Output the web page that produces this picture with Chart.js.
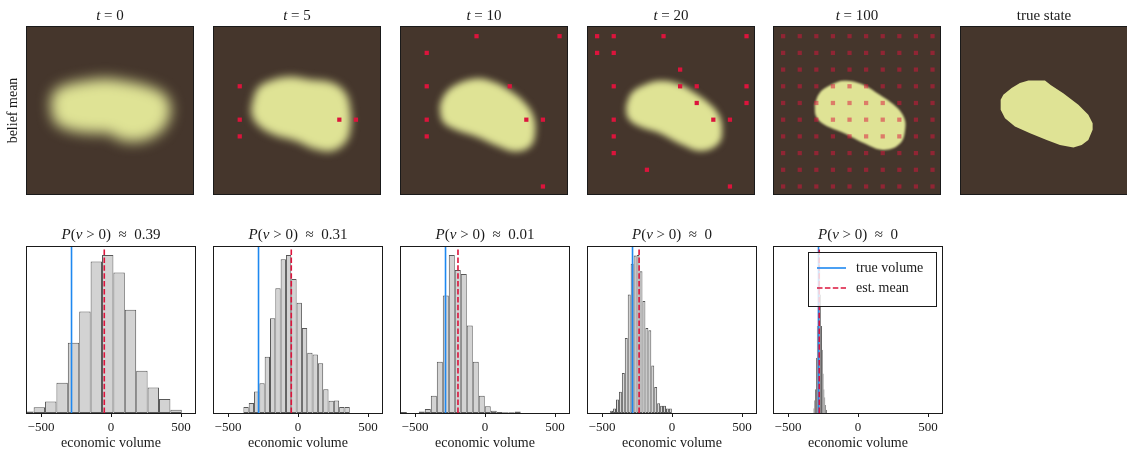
<!DOCTYPE html>
<html>
<head>
<meta charset="utf-8">
<script src="https://cdn.jsdelivr.net/npm/chart.js@4.4.1/dist/chart.umd.min.js"></script>
<style>
  body { margin:0; background:#fff; width:1127px; height:456px; position:relative; overflow:hidden; }
  canvas { position:absolute; }
</style>
</head>
<body>
<script>
// ---- data ------------------------------------------------------------------
// Top row: belief mean at each step, in image units (0..100, y from top).
const STEP_TITLES = ['t = 0', 't = 5', 't = 10', 't = 20', 't = 100', 'true state'];

const BLOB_T0   = [[14,44],[17,38],[24,34.5],[36,32],[48,31],[60,32.5],[73,35.5],[83,40.5],[86.5,48],[84.5,57.5],[78,64.5],[67,68.5],[56,67.5],[50,64],[38,63.5],[25,61.5],[16.5,56.5]];
const BLOB_T5   = [[23.5,43.3],[26.4,36.7],[33.4,32.4],[45.3,29.8],[57.3,31.4],[71.2,33.4],[79.1,39.4],[82.1,49.3],[82.1,61.3],[79.1,69.2],[71.2,74.2],[61.2,73.2],[49.3,68.2],[35.4,64.2],[26.4,58.6],[22.5,51.3]];
const BLOB_T10  = [[23.2,47.6],[26.2,40.6],[33.1,34.6],[45,31],[54.9,32.6],[64.9,37.6],[74.8,45.6],[79.8,53.6],[80.8,63.6],[77.8,71.6],[68.8,74.6],[58.9,71.6],[45,65.6],[33.1,61.6],[25.2,56.6]];
const BLOB_T20  = [[22.8,47.6],[26.2,39.6],[34.1,34.6],[43.1,32.2],[53,33.6],[62.9,38.6],[72.8,45.6],[78.8,52.6],[80.8,61.6],[78.8,69.6],[68.8,74.2],[56.9,70.6],[43.1,63.6],[31.2,59.6],[24.2,54.6]];
const BLOB_T100 = [[24.5,46.6],[27.4,39.6],[34.4,34.6],[42.3,32.2],[52.3,34],[62.2,39.6],[72.2,46.6],[78.1,53.6],[79.1,60.6],[76.1,69.6],[66.2,73.6],[54.3,69.6],[42.3,63.6],[30.4,58.6],[25.4,53.6]];
const BLOB_TRUE = [[23.9,43.6],[25.5,40.6],[30.5,36.6],[35.5,33.6],[40.6,32],[50.6,32],[54,34.8],[61.6,39.6],[70.7,46.6],[76.7,52.6],[79.3,57.6],[79.3,61.6],[76.7,67.6],[72.7,70.6],[67.7,72.2],[59.6,70.6],[51.6,67.6],[41.6,63.6],[32.5,59.6],[26.5,54.6],[23.9,49.6]];

// sampled locations (red markers)
const MARKS_T5  = [[15.5,35.5],[15.5,55.5],[15.5,65.5],[75.5,55.5],[85.5,55.5]];
const MARKS_T10 = [[45.5,5.5],[95.5,5.5],[15.5,15.5],[15.5,35.5],[65.5,35.5],[15.5,55.5],[75.5,55.5],[85.5,55.5],[15.5,65.5],[85.5,95.5]];
const MARKS_T20 = [[5.5,5.5],[15.5,5.5],[45.5,5.5],[95.5,5.5],[5.5,15.5],[15.5,15.5],[55.5,25.5],[15.5,35.5],[55.5,35.5],[65.5,35.5],[95.5,35.5],
                   [65.5,45.5],[95.5,45.5],[15.5,55.5],[75.5,55.5],[85.5,55.5],[15.5,65.5],[15.5,75.5],[35.5,85.5],[85.5,95.5]];
const GRID_T100 = [5.5,15.5,25.5,35.5,45.5,55.5,65.5,75.5,85.5,95.5];   // every cell sampled by t=100

// Bottom row: posterior histograms of economic volume (counts scaled to tallest bar = 100)
const XTICKS = [-500, 0, 500];
const P_POSITIVE = ['0.39', '0.31', '0.01', '0', '0'];
const TRUE_VOLUME = -282;
const EST_MEAN = [-48, -48, -193, -235, -277];
const BIN_START = [-634, -390, -601, -442, -318];
const BIN_WIDTH = [81.4, 38, 42.8, 21, 6];
const COUNTS_T0   = [1.0, 3.6, 7.3, 19.2, 44.4, 64.2, 95.8, 100, 88.9, 65.3, 26.8, 16.1, 8.8, 2.1];
const COUNTS_T5   = [3.8, 6.3, 13.6, 18.8, 35.6, 60.0, 78.9, 97.3, 100, 84.7, 69.7, 53.8, 38.1, 37.0, 31.4, 15.1, 7.7, 7.9, 3.8, 3.8];
const COUNTS_T10  = [0.6, 0, 0, 1.0, 2.5, 10.9, 32.4, 74.3, 100, 90.4, 87.9, 55.4, 32.4, 10.9, 4.2, 1.5, 0.6, 0.4, 0.4, 1.0];
const COUNTS_T20  = [1.5, 2.9, 8.6, 13.4, 25.3, 47.4, 75, 94.4, 99.6, 100, 89.6, 70.8, 53.7, 52.4, 30.1, 16.5, 6.1, 4.6, 4.6, 2.9, 2.9];
const COUNTS_T100 = [3, 8, 15, 35, 55, 80, 100, 95, 75, 55, 40, 25, 15, 10, 5, 2];

const BLOBS  = [BLOB_T0, BLOB_T5, BLOB_T10, BLOB_T20, BLOB_T100, BLOB_TRUE];
const MARKS  = [[], MARKS_T5, MARKS_T10, MARKS_T20, GRID_T100.flatMap(y => GRID_T100.map(x => [x, y])), []];
const COUNTS = [COUNTS_T0, COUNTS_T5, COUNTS_T10, COUNTS_T20, COUNTS_T100];

// ---- look ------------------------------------------------------------------
const SERIF = '"Liberation Serif", "DejaVu Serif", serif';
const INK = '#1a1a1a';
const BG_COLOR = '#45362c', BLOB_COLOR = '#dfe395';
const BLUR = [7, 4.5, 3.5, 3, 1.2, 0];          // px, how smeared the belief mean looks
const MARK_COLOR = ['#dc143c', '#dc143c', '#dc143c', '#dc143c', 'rgba(220,20,60,0.5)', '#dc143c'];
const TOP_LEFT = [27, 214, 401, 588, 774, 961], TOP_W = 166;
const HIST_LEFT = [27, 214, 401, 588, 774], HIST_W = 168;
const PAD = 14, YMAX = 105;

// ---- helpers ---------------------------------------------------------------
function addCanvas(left, top, w, h){
  const c = document.createElement('canvas');
  c.width = w; c.height = h;
  c.style.cssText = `left:${left}px;top:${top}px;width:${w}px;height:${h}px`;
  document.body.appendChild(c);
  return c;
}
const toXY = pts => pts.map(([x, y]) => ({x, y}));

// title with italic math letters, like the LaTeX labels
function drawTitle(ctx, text, math, cx, cy){
  const parts = [...text].map(ch => ({ch,
    font: `${math && /[A-Za-z]/.test(ch) ? 'italic ' : ''}15px ${SERIF}`}));
  let w = 0;
  parts.forEach(p => { ctx.font = p.font; p.w = ctx.measureText(p.ch).width; w += p.w; });
  let x = cx - w / 2;
  ctx.fillStyle = INK; ctx.textBaseline = 'middle'; ctx.textAlign = 'left';
  parts.forEach(p => { ctx.font = p.font; ctx.fillText(p.ch, x, cy); x += p.w; });
}

function drawLegend(chart){
  const {ctx, chartArea: a} = chart;
  const items = chart.data.datasets.filter(d => d.type === 'line').sort((p, q) => q.order - p.order);
  ctx.save();
  ctx.font = `14px ${SERIF}`;
  const tw = Math.max(...items.map(d => ctx.measureText(d.label).width));
  const w = Math.round(9 + 29 + 10 + tw + 13), h = 54;
  const x = Math.round(a.right - 6 - w), y = Math.round(a.top + 5);
  ctx.fillStyle = 'rgba(255,255,255,0.8)'; ctx.fillRect(x, y, w, h);
  ctx.strokeStyle = INK; ctx.lineWidth = 1; ctx.strokeRect(x + 0.5, y + 0.5, w, h);
  items.forEach((d, k) => {
    const cy = y + 16 + k * 20;
    ctx.strokeStyle = d.borderColor; ctx.lineWidth = d.borderWidth; ctx.setLineDash(d.borderDash || []);
    ctx.beginPath(); ctx.moveTo(x + 9, cy); ctx.lineTo(x + 38, cy); ctx.stroke();
    ctx.setLineDash([]);
    ctx.fillStyle = INK; ctx.textBaseline = 'middle'; ctx.textAlign = 'left';
    ctx.fillText(d.label, x + 48, cy);
  });
  ctx.restore();
}

// background, blur for the belief blob, frame, titles, legend
const panelPlugin = {
  id: 'panel',
  beforeDatasetsDraw(chart, args, opts){
    const {ctx, chartArea: a} = chart;
    if(opts.bg){ ctx.fillStyle = opts.bg; ctx.fillRect(a.left, a.top, a.width, a.height); }
    ctx.filter = opts.blur ? `blur(${opts.blur}px)` : 'none';   // picked up by the filler of the first dataset
  },
  afterDatasetDraw(chart){ chart.ctx.filter = 'none'; },
  afterDatasetsDraw(chart, args, opts){
    const {ctx, chartArea: a} = chart;
    ctx.save();
    ctx.strokeStyle = INK; ctx.lineWidth = 1;
    ctx.strokeRect(Math.round(a.left) - 0.5, Math.round(a.top) - 0.5, Math.round(a.width) + 1, Math.round(a.height) + 1);
    ctx.restore();
    if(opts.legend) drawLegend(chart);
  },
  afterDraw(chart, args, opts){
    const a = chart.chartArea;
    if(opts.title) drawTitle(chart.ctx, opts.title, opts.math, (a.left + a.right) / 2, a.top - opts.titleGap);
  },
};

Chart.defaults.font.family = SERIF;
Chart.defaults.color = INK;

// ---- top row: belief maps --------------------------------------------------
function imageChart(i){
  const first = i === 0;
  const left = first ? 0 : TOP_LEFT[i] - PAD;
  const w = first ? TOP_LEFT[0] + TOP_W + PAD : TOP_W + 2 * PAD;
  const canvas = addCanvas(left, 0, w, 200);
  const blob = BLOBS[i];
  const datasets = [{
    label: 'belief',
    data: toXY(blob.concat([blob[0]])),
    showLine: true, fill: 'shape', backgroundColor: BLOB_COLOR,
    borderColor: 'rgba(0,0,0,0)', borderWidth: 0, pointRadius: 0,
    tension: i === 5 ? 0 : 0.4, order: 2,
  }];
  if(MARKS[i].length){
    datasets.push({
      label: 'samples', data: toXY(MARKS[i]),
      pointStyle: 'rect', pointRadius: 3, backgroundColor: MARK_COLOR[i], borderWidth: 0, order: 1,
    });
  }
  const yScale = {
    type: 'linear', min: 0, max: 100, reverse: true, display: first,
    ticks: {display: false}, grid: {display: false}, border: {display: false},
    title: {display: true, text: 'belief mean', font: {size: 14, family: SERIF}, color: INK, padding: {top: 5, bottom: 0}},
  };
  if(first) yScale.afterFit = s => { s.width = TOP_LEFT[0]; };
  new Chart(canvas, {
    type: 'scatter',
    data: {datasets},
    plugins: [panelPlugin],
    options: {
      responsive: false, animation: false, events: [], devicePixelRatio: 1,
      layout: {padding: {left: first ? 0 : PAD, right: PAD, top: 27, bottom: 6}},
      plugins: {
        legend: {display: false}, tooltip: {enabled: false},
        filler: {propagate: false},
        panel: {bg: BG_COLOR, blur: BLUR[i], title: STEP_TITLES[i], math: i < 5, titleGap: 11},
      },
      scales: {
        x: {type: 'linear', min: 0, max: 100, display: false},
        y: yScale,
      },
    },
  });
}

// ---- bottom row: histograms ------------------------------------------------
function histChart(i){
  const canvas = addCanvas(HIST_LEFT[i] - PAD, 215, HIST_W + 2 * PAD, 241);
  const bars = COUNTS[i].map((c, k) => ({x: BIN_START[i] + BIN_WIDTH[i] * (k + 0.5), y: c}));
  const narrow = i === 4;
  new Chart(canvas, {
    type: 'bar',
    data: {datasets: [
      {
        type: 'line', label: 'est. mean',
        data: [{x: EST_MEAN[i], y: 0}, {x: EST_MEAN[i], y: YMAX}],
        borderColor: '#dc143c', borderWidth: 1.6, borderDash: [5.5, 2.4], pointRadius: 0, order: 1,
      },
      {
        type: 'line', label: 'true volume',
        data: [{x: TRUE_VOLUME, y: 0}, {x: TRUE_VOLUME, y: YMAX}],
        borderColor: '#1e88f0', borderWidth: 1.6, pointRadius: 0, order: 2,
      },
      {
        type: 'bar', label: 'posterior', data: bars,
        backgroundColor: narrow ? '#4f4f4f' : '#d3d3d3',
        borderColor: narrow ? '#4a4a4a' : 'rgba(70,70,70,0.9)',
        borderWidth: 1, borderSkipped: false, inflateAmount: 0,
        barPercentage: 1, categoryPercentage: 1, order: 3,
      },
    ]},
    plugins: [panelPlugin],
    options: {
      responsive: false, animation: false, events: [], devicePixelRatio: 1,
      layout: {padding: {left: PAD, right: PAD, top: 32, bottom: 3}},
      plugins: {
        legend: {display: false}, tooltip: {enabled: false},
        panel: {title: `P(v > 0)  ≈  ${P_POSITIVE[i]}`, math: true, titleGap: 12, legend: i === 4},
      },
      scales: {
        x: {
          type: 'linear', min: -600, max: 600, offset: false,
          afterBuildTicks: s => { s.ticks = XTICKS.map(v => ({value: v})); },
          afterFit: s => { s.height = 40; },
          ticks: {
            font: {size: 13, family: SERIF}, color: INK, padding: 3, maxRotation: 0,
            callback: v => v < 0 ? '\u2212' + Math.abs(v) : String(v),
          },
          grid: {display: true, drawOnChartArea: false, drawTicks: true, tickLength: 4, color: INK, offset: false},
          border: {display: false},
          title: {display: true, text: 'economic volume', font: {size: 14, family: SERIF}, color: INK, padding: {top: 0, bottom: 1}},
        },
        y: {min: 0, max: YMAX, display: false},
      },
    },
  });
}

BLOBS.forEach((b, i) => imageChart(i));
COUNTS.forEach((c, i) => histChart(i));
</script>
</body>
</html>
